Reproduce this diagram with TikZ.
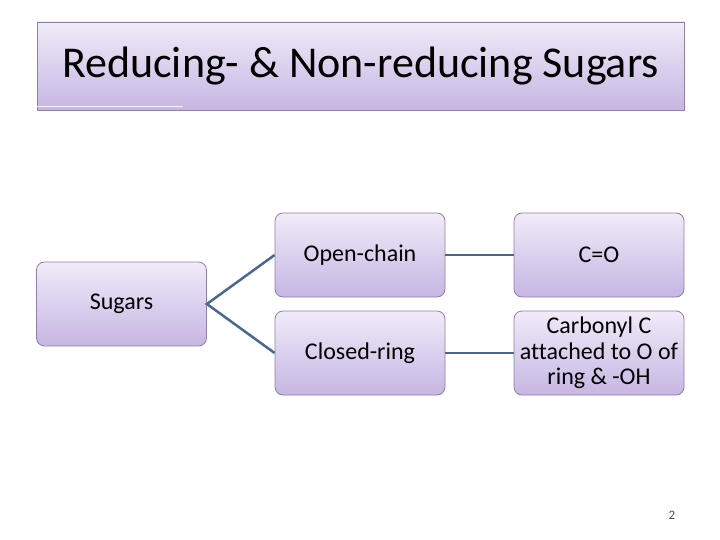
\documentclass[tikz,border=0pt]{standalone}
\usepackage{fontspec}
\setmainfont[Ligatures={NoCommon}]{Carlito}
\begin{document}
\begin{tikzpicture}[x=1pt,y=-1pt,
  box/.style={draw=boxline,line width=0.8pt,rounded corners=8pt,top color=boxtop,bottom color=boxbot,minimum width=170pt,minimum height=84pt,inner sep=0pt,align=center,font=\fontsize{24}{25.5}\selectfont},
  conn/.style={draw=connc,line width=2.5pt}]
\definecolor{boxtop}{HTML}{F0EBF9}
\definecolor{boxbot}{HTML}{C6B6E3}
\definecolor{boxline}{HTML}{9080A8}
\definecolor{connc}{HTML}{4A6890}
\useasboundingbox (0,0) rectangle (720,540);
\fill[white] (0,0) rectangle (720,540);
\node[draw=boxline,line width=0.8pt,top color=boxtop,bottom color=boxbot,minimum width=647pt,minimum height=88pt,inner sep=0pt,font=\fontsize{44}{48}\selectfont] (title) at (360.5,66) {Reducing- \& Non-reducing Sugars};
\draw[white!90!boxline,line width=0.8pt] (37,106) -- (183,106);
\node[box] (sugars) at (121.5,304) {Sugars};
\node[box] (open) at (360,255) {Open-chain};
\node[box] (closed) at (360,353) {Closed-ring};
\node[box] (co) at (599,255) {C=O};
\node[box] (carb) at (599,353) {Carbonyl C\\attached to O of\\ring \& -OH};
\draw[conn] (open.west) -- (sugars.east) -- (closed.west);
\draw[conn] (open.east) -- (co.west);
\draw[conn] (closed.east) -- (carb.west);
\node[font=\fontsize{13}{14}\selectfont,text=black!70] (pg) at (672,515) {2};
\end{tikzpicture}
\end{document}
